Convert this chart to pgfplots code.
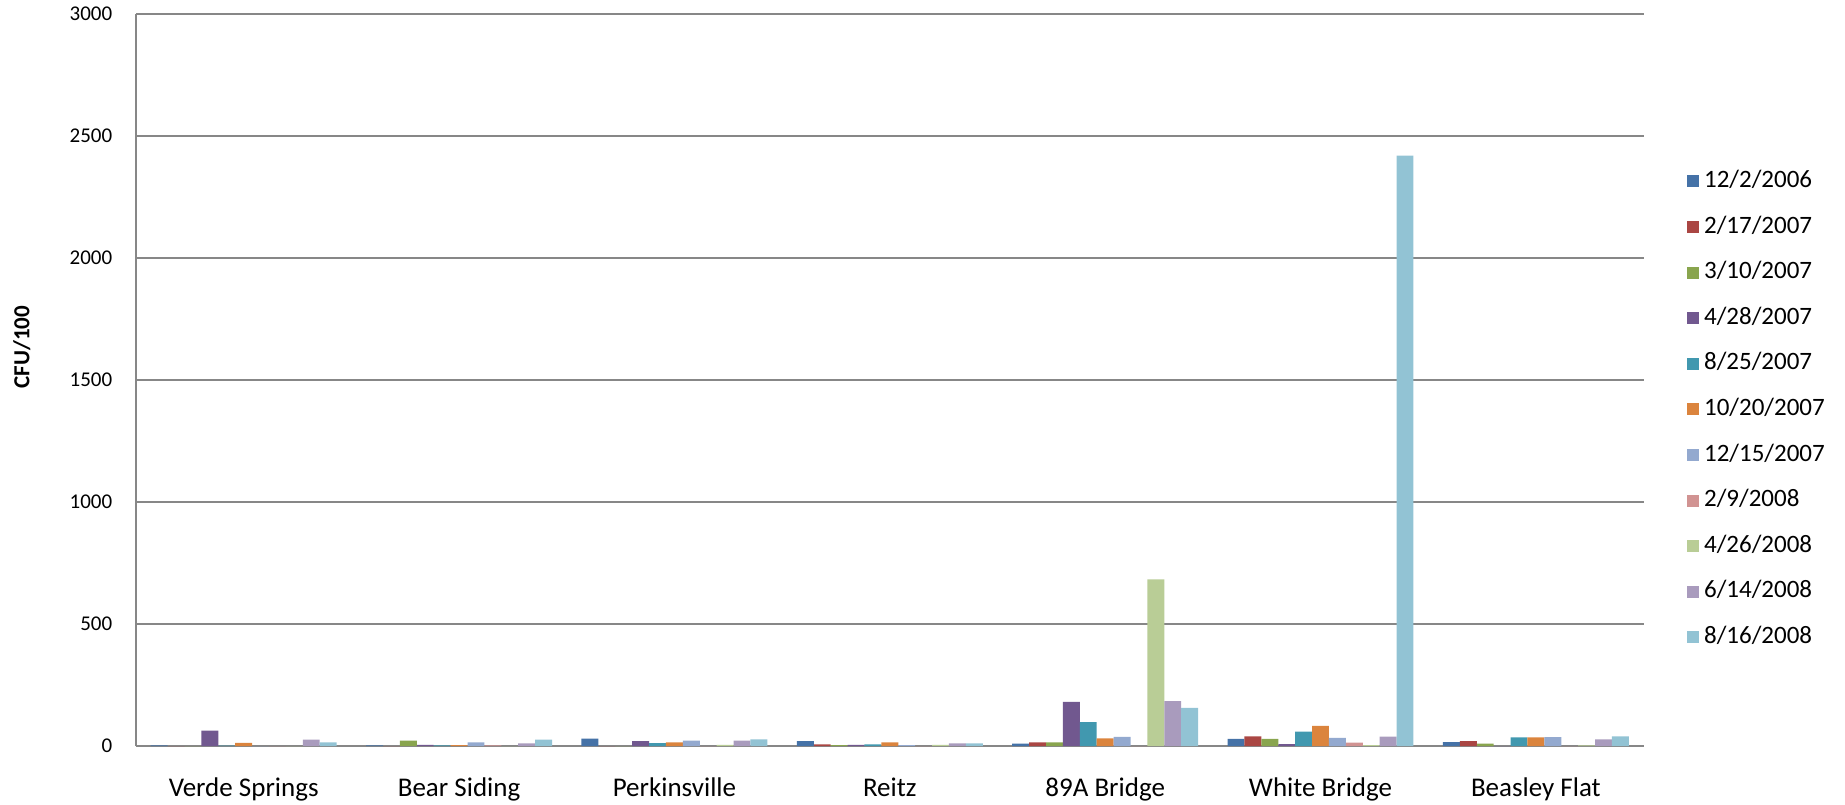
\documentclass[border=0pt]{standalone}
\usepackage{pgfplots}
\pgfplotsset{compat=1.18}
\usepackage{pgfplotstable}
\usepackage{fontspec}
\setmainfont{Carlito}

\definecolor{c1}{HTML}{4572A7}
\definecolor{c2}{HTML}{AA4643}
\definecolor{c3}{HTML}{89A54E}
\definecolor{c4}{HTML}{71588F}
\definecolor{c5}{HTML}{4198AF}
\definecolor{c6}{HTML}{DB843D}
\definecolor{c7}{HTML}{93A9CF}
\definecolor{c8}{HTML}{D19392}
\definecolor{c9}{HTML}{B9CD96}
\definecolor{c10}{HTML}{A99BBD}
\definecolor{c11}{HTML}{92C3D4}
\definecolor{gridgray}{HTML}{878787}

% one row per site, one column per sampling date
\pgfplotstableread{
x  d1  d2  d3  d4   d5  d6  d7  d8  d9   d10  d11
0   3   0   0  63    2  13   0   0   0   26   15
1   3   0  22   5    3   4  15   3   0   11   26
2  30   0   0  20   12  15  22   0   5   22   27
3  20   7   4   5    7  15   4   0   5   11   11
4  10  15  15 181   98  31  37   0 683  184  156
5  29  39  29   8   59  82  33  14   4   38 2420
6  16  20  10   0   35  35  36   0   3   27   39
}\sites

\begin{document}
\begin{tikzpicture}
  \fontsize{11}{13}\selectfont
  \path[use as bounding box] (0,0) rectangle (922.5pt,402pt);
  \begin{axis}[
    at={(68pt,29pt)}, anchor=south west,
    scale only axis,
    width=753.8pt, height=366pt,
    ybar=0pt, bar width=8.45pt,
    xmin=-0.5, xmax=6.5,
    ymin=0, ymax=3000,
    ytick distance=500,
    xtick=data,
    xticklabels={Verde Springs, Bear Siding, Perkinsville, Reitz,
                 89A Bridge, White Bridge, Beasley Flat},
    major tick length=0pt,
    axis x line*=bottom, axis y line*=left,
    axis line style={gridgray, line width=0.9pt, -},
    ymajorgrids, grid style={gridgray, line width=0.8pt},
    /pgf/number format/assume math mode=true,
    /pgf/number format/1000 sep={},
    yticklabel style={font=\fontsize{10.5}{12}\selectfont, xshift=-8pt},
    xticklabel style={font=\fontsize{13.5}{15}\selectfont, yshift=-12pt},
    ylabel={\bfseries CFU/100},
    every axis y label/.style={at={(rel axis cs:-0.0758,0.545)},
      rotate=90, anchor=center, font=\fontsize{11.5}{13}\selectfont},
    legend cell align=left,
    legend style={at={(rel axis cs:1.0286,0.7855)}, anchor=north west,
      draw=none, fill=none, inner sep=0pt,
      font=\fontsize{12.5}{14}\selectfont,
      nodes={inner sep=0pt, text height=8pt, text depth=2pt},
      row sep=12.8pt,
      /tikz/every even column/.append style={column sep=3pt}},
    legend image code/.code={\fill[#1] (0pt,-3pt) rectangle (6pt,3pt);
      \path (8.5pt,0pt);},
  ]
    \addplot[fill=c1,  draw=none] table[x=x, y=d1]  {\sites};
    \addplot[fill=c2,  draw=none] table[x=x, y=d2]  {\sites};
    \addplot[fill=c3,  draw=none] table[x=x, y=d3]  {\sites};
    \addplot[fill=c4,  draw=none] table[x=x, y=d4]  {\sites};
    \addplot[fill=c5,  draw=none] table[x=x, y=d5]  {\sites};
    \addplot[fill=c6,  draw=none] table[x=x, y=d6]  {\sites};
    \addplot[fill=c7,  draw=none] table[x=x, y=d7]  {\sites};
    \addplot[fill=c8,  draw=none] table[x=x, y=d8]  {\sites};
    \addplot[fill=c9,  draw=none] table[x=x, y=d9]  {\sites};
    \addplot[fill=c10, draw=none] table[x=x, y=d10] {\sites};
    \addplot[fill=c11, draw=none] table[x=x, y=d11] {\sites};
    \legend{12/2/2006, 2/17/2007, 3/10/2007, 4/28/2007, 8/25/2007,
            10/20/2007, 12/15/2007, 2/9/2008, 4/26/2008, 6/14/2008,
            8/16/2008}
  \end{axis}
\end{tikzpicture}
\end{document}
